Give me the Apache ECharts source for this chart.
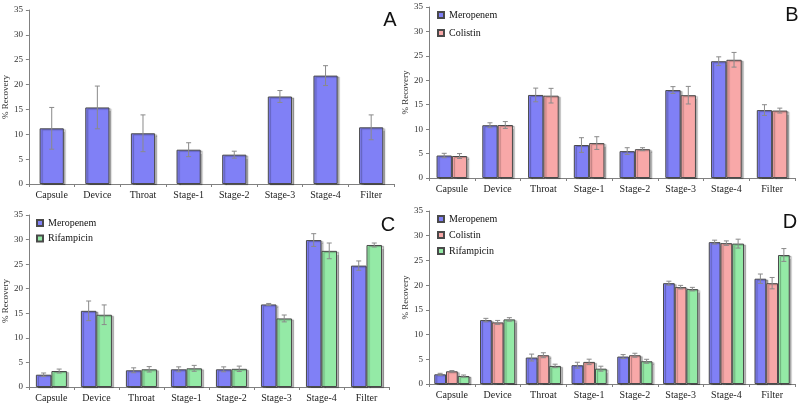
<!DOCTYPE html>
<html><head><meta charset="utf-8">
<script src="https://cdn.jsdelivr.net/npm/echarts@6/dist/echarts.min.js"></script>
<style>html,body{margin:0;padding:0;background:#fff}#c{width:800px;height:404px}</style>
</head><body><div id="c"></div>
<script>
const categories = ['Capsule','Device','Throat','Stage-1','Stage-2','Stage-3','Stage-4','Filter'];
const yTicks = {min:0, max:35, interval:5};

// Panel A (single series)
const aValues = [11.2, 15.4, 10.2, 6.9, 5.9, 17.6, 21.8, 11.4];
const aErr    = [4.2, 4.3, 3.7, 1.4, 0.7, 1.2, 2.0, 2.5];

// Panel B
const bMeropenem    = [4.6, 10.8, 17.0, 6.75, 5.5, 18.0, 23.9, 13.9];
const bMeropenemErr = [0.45, 0.5, 1.4, 1.5, 0.7, 0.7, 0.9, 1.1];
const bColistin     = [4.5, 10.85, 16.85, 7.15, 5.9, 16.95, 24.2, 13.8];
const bColistinErr  = [0.5, 0.7, 1.5, 1.3, 0.3, 1.8, 1.5, 0.5];

// Panel C
const cMeropenem     = [2.5, 15.5, 3.4, 3.6, 3.6, 16.8, 29.9, 24.7];
const cMeropenemErr  = [0.35, 2.0, 0.5, 0.5, 0.5, 0.2, 1.3, 0.95];
const cRifampicin    = [3.25, 14.7, 3.6, 3.8, 3.7, 13.95, 27.7, 28.9];
const cRifampicinErr = [0.4, 2.0, 0.55, 0.6, 0.55, 0.7, 1.6, 0.4];

// Panel D
const dMeropenem     = [1.96, 12.93, 5.35, 3.8, 5.55, 20.4, 28.7, 21.3];
const dMeropenemErr  = [0.2, 0.35, 0.7, 0.6, 0.4, 0.4, 0.4, 0.95];
const dColistin      = [2.57, 12.46, 5.82, 4.47, 5.82, 19.6, 28.5, 20.4];
const dColistinErr   = [0.15, 0.4, 0.5, 0.55, 0.4, 0.35, 0.45, 1.15];
const dRifampicin    = [1.62, 13.07, 3.66, 3.1, 4.6, 19.2, 28.4, 26.1];
const dRifampicinErr = [0.2, 0.35, 0.35, 0.5, 0.4, 0.35, 0.9, 1.3];

const COLORS = {Meropenem:'#8080f6', Colistin:'#f8a8a8', Rifampicin:'#94eaa6'};
const SERIF = "'Liberation Serif','Times New Roman',serif";

const grids = [
  {left:28, top:10, width:366, height:174},
  {left:429, top:7, width:366, height:171},
  {left:28, top:215, width:361, height:172},
  {left:429, top:211, width:366, height:173}
];

const panels = [
  {gap:0.47, series:[{name:'Meropenem', v:aValues, e:aErr}]},
  {gap:0.33, series:[{name:'Meropenem', v:bMeropenem, e:bMeropenemErr},{name:'Colistin', v:bColistin, e:bColistinErr}]},
  {gap:0.31, series:[{name:'Meropenem', v:cMeropenem, e:cMeropenemErr},{name:'Rifampicin', v:cRifampicin, e:cRifampicinErr}]},
  {gap:0.23, series:[{name:'Meropenem', v:dMeropenem, e:dMeropenemErr},{name:'Colistin', v:dColistin, e:dColistinErr},{name:'Rifampicin', v:dRifampicin, e:dRifampicinErr}]}
];

function errRender(n, idx, gap){
  return function(params, api){
    const ci = api.value(0), lo = api.value(1), hi = api.value(2);
    const catW = api.size([1,0])[0];
    const groupW = catW*(1-gap);
    const bw = groupW/n;
    const base = api.coord([ci, lo]);
    const xc = base[0] - groupW/2 + bw*(idx+0.5);
    const yl = base[1], yh = api.coord([ci, hi])[1];
    const cap = 2.5;
    const st = {stroke:'#8a8a8a', lineWidth:1};
    return {type:'group', children:[
      {type:'line', shape:{x1:xc, y1:yl, x2:xc, y2:yh}, style:st},
      {type:'line', shape:{x1:xc-cap, y1:yh, x2:xc+cap, y2:yh}, style:st},
      {type:'line', shape:{x1:xc-cap, y1:yl, x2:xc+cap, y2:yl}, style:st}
    ]};
  };
}

const xAxes = [], yAxes = [], series = [];
panels.forEach((p, gi) => {
  xAxes.push({type:'category', gridIndex:gi, data:categories,
    axisLine:{lineStyle:{color:'#808080'}}, axisTick:{show:true, length:3, lineStyle:{color:'#808080'}},
    axisLabel:{interval:0, fontFamily:SERIF, fontSize:10, color:'#222', margin:6}});
  yAxes.push({type:'value', gridIndex:gi, min:yTicks.min, max:yTicks.max, interval:yTicks.interval,
    name:'% Recovery', nameLocation:'middle', nameGap:17,
    nameTextStyle:{fontFamily:SERIF, fontSize:9, color:'#333'},
    splitLine:{show:false}, axisLine:{show:true, lineStyle:{color:'#808080'}},
    axisTick:{show:true, length:3, lineStyle:{color:'#808080'}},
    axisLabel:{fontFamily:SERIF, fontSize:9, color:'#333', margin:6}});
  const n = p.series.length;
  p.series.forEach((s, si) => {
    series.push({type:'bar', name:s.name, xAxisIndex:gi, yAxisIndex:gi, data:s.v,
      barGap:'0%', barCategoryGap:(p.gap*100)+'%',
      itemStyle:{color:COLORS[s.name], borderColor:'#4a4a4a', borderWidth:1,
        shadowColor:'rgba(0,0,0,0.28)', shadowOffsetX:2, shadowOffsetY:1, shadowBlur:1}});
  });
  p.series.forEach((s, si) => {
    series.push({type:'custom', name:s.name+' err', xAxisIndex:gi, yAxisIndex:gi, z:5,
      renderItem:errRender(n, si, p.gap), silent:true,
      data:s.v.map((v,i)=>[i, v - s.e[i], v + s.e[i]]), encode:{x:0, y:[1,2]}});
  });
});

const legendBase = {orient:'vertical', icon:'rect', itemWidth:6, itemHeight:6,
  textStyle:{fontFamily:SERIF, fontSize:10, color:'#111'}, selectedMode:false};
const legends = [
  Object.assign({}, legendBase, {left:432, top:5, itemGap:8, data:['Meropenem','Colistin']}),
  Object.assign({}, legendBase, {left:31, top:213, itemGap:5.5, data:['Meropenem','Rifampicin']}),
  Object.assign({}, legendBase, {left:432, top:209, itemGap:6, data:['Meropenem','Colistin','Rifampicin']})
];

const letters = [['A',390,20],['B',792,15],['C',388,225],['D',790,222]];
const graphic = letters.map(l => ({type:'text', x:l[1], y:l[2],
  style:{text:l[0], font:"20px 'Liberation Sans', Arial, sans-serif", fill:'#111', textAlign:'center', textVerticalAlign:'middle'}}));

const chart = echarts.init(document.getElementById('c'), null, {renderer:'canvas'});
chart.setOption({animation:false, backgroundColor:'#fff', grid:grids, xAxis:xAxes, yAxis:yAxes,
  series:series, legend:legends, graphic:graphic});
</script></body></html>
